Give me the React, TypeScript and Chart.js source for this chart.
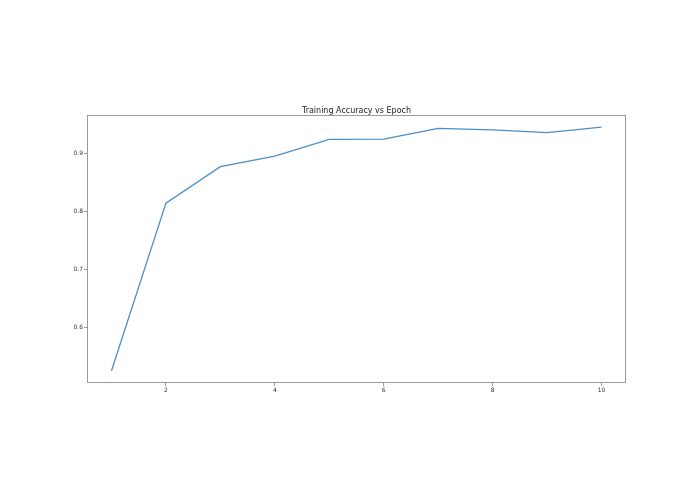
import React, { useEffect, useRef } from "react";
import { Chart, registerables } from "chart.js";

Chart.register(...registerables);

const epochs = [1, 2, 3, 4, 5, 6, 7, 8, 9, 10];
const accuracy = [0.525, 0.814, 0.877, 0.895, 0.924, 0.9245, 0.943, 0.9405, 0.9355, 0.9452];
const xTicks = [2, 4, 6, 8, 10];
const yTicks = [0.6, 0.7, 0.8, 0.9];
const titleText = "Training Accuracy vs Epoch";

const W = 695;
const H = 494;

// frame + title, drawn like matplotlib's axes box
const framePlugin = {
  id: "frame",
  afterDraw(chart: Chart) {
    const { ctx, chartArea } = chart;
    ctx.save();
    ctx.strokeStyle = "#9a9a9a";
    ctx.lineWidth = 1;
    ctx.strokeRect(chartArea.left + 0.5, chartArea.top + 0.5, chartArea.width - 1, chartArea.height - 1);
    ctx.fillStyle = "#222";
    ctx.font = "8px 'DejaVu Sans'";
    ctx.textAlign = "center";
    ctx.textBaseline = "alphabetic";
    ctx.fillText(titleText, (chartArea.left + chartArea.right) / 2, chartArea.top - 2);
    ctx.restore();
  },
};

const App: React.FC = () => {
  const canvasRef = useRef<HTMLCanvasElement | null>(null);
  const chartRef = useRef<Chart | null>(null);

  useEffect(() => {
    document.body.style.margin = "0";
    const ctx = canvasRef.current?.getContext("2d");
    if (!ctx) return;
    chartRef.current?.destroy();

    const tickFont = { family: "'DejaVu Sans'", size: 6 };

    chartRef.current = new Chart(ctx, {
      type: "line",
      data: {
        datasets: [
          {
            data: epochs.map((e, i) => ({ x: e, y: accuracy[i] })),
            borderColor: "#4a8fc6",
            borderWidth: 1.3,
            pointRadius: 0,
            tension: 0,
            fill: false,
          },
        ],
      },
      options: {
        responsive: false,
        animation: false,
        layout: { padding: { top: 115, right: 69, left: 0, bottom: 0 } },
        plugins: {
          legend: { display: false },
          tooltip: { enabled: false },
        },
        scales: {
          x: {
            type: "linear",
            min: 0.55,
            max: 10.45,
            afterBuildTicks: (scale: any) => {
              scale.ticks = xTicks.map((v) => ({ value: v }));
            },
            afterFit: (scale: any) => {
              scale.height = H - 383;
            },
            grid: { drawOnChartArea: false, drawTicks: true, tickLength: 3, color: "#9a9a9a" },
            border: { display: false },
            ticks: { font: tickFont, color: "#333", padding: 1, maxRotation: 0 },
          },
          y: {
            type: "linear",
            min: 0.504,
            max: 0.966,
            afterBuildTicks: (scale: any) => {
              scale.ticks = yTicks.map((v) => ({ value: v }));
            },
            afterFit: (scale: any) => {
              scale.width = 87;
            },
            grid: { drawOnChartArea: false, drawTicks: true, tickLength: 3, color: "#9a9a9a" },
            border: { display: false },
            ticks: {
              font: tickFont,
              color: "#333",
              padding: 1,
              callback: (v: any) => Number(v).toFixed(1),
            },
          },
        },
      },
      plugins: [framePlugin],
    });

    return () => {
      chartRef.current?.destroy();
      chartRef.current = null;
    };
  }, []);

  return (
    <div style={{ width: W, height: H, background: "#fff" }}>
      <canvas ref={canvasRef} width={W} height={H}></canvas>
    </div>
  );
};

export default App;
